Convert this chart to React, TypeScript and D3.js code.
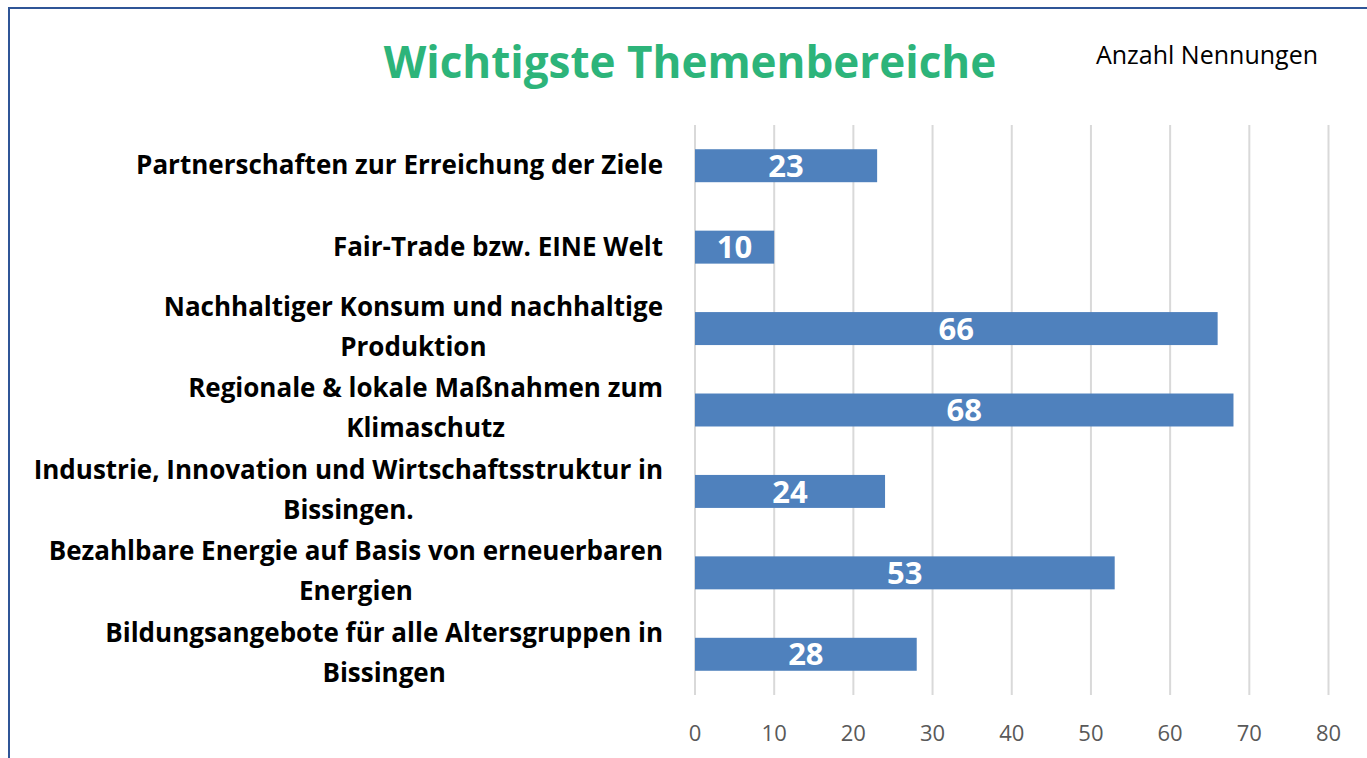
import React, { useEffect, useRef } from "react";
import * as d3 from "d3";

const categories: string[][] = [
  ["Partnerschaften zur Erreichung der Ziele"],
  ["Fair-Trade bzw. EINE Welt"],
  ["Nachhaltiger Konsum und nachhaltige", "Produktion"],
  ["Regionale & lokale Maßnahmen zum", "Klimaschutz"],
  ["Industrie, Innovation und Wirtschaftsstruktur in", "Bissingen."],
  ["Bezahlbare Energie auf Basis von erneuerbaren", "Energien"],
  ["Bildungsangebote für alle Altersgruppen in", "Bissingen"],
];
const values: number[] = [23, 10, 66, 68, 24, 53, 28];
const xTicks: number[] = [0, 10, 20, 30, 40, 50, 60, 70, 80];
const title = "Wichtigste Themenbereiche";
const axisTitle = "Anzahl Nennungen";

const W = 1367;
const H = 758;
const FONT = "'Open Sans', 'DejaVu Sans', sans-serif";

export default function App() {
  const ref = useRef<SVGSVGElement | null>(null);

  useEffect(() => {
    const svg = d3.select(ref.current);
    svg.selectAll("*").remove();

    const x = d3.scaleLinear().domain([0, 80]).range([695, 1328.5]);
    const y = d3
      .scaleBand<number>()
      .domain(values.map((_, i) => i))
      .range([125, 695])
      .paddingInner(0.595)
      .paddingOuter(0.2975);

    svg.append("rect").attr("width", W).attr("height", H).attr("fill", "#fff");
    svg
      .append("rect")
      .attr("x", 9)
      .attr("y", 8)
      .attr("width", W + 20)
      .attr("height", H + 20)
      .attr("fill", "none")
      .attr("stroke", "#2F5597")
      .attr("stroke-width", 2);

    svg
      .append("text")
      .attr("x", 690)
      .attr("y", 78)
      .attr("text-anchor", "middle")
      .attr("font-family", FONT)
      .attr("font-weight", 700)
      .attr("font-size", 44)
      .attr("fill", "#2DB47A")
      .text(title);

    svg
      .append("text")
      .attr("x", 1207)
      .attr("y", 64)
      .attr("text-anchor", "middle")
      .attr("font-family", FONT)
      .attr("font-size", 25)
      .attr("fill", "#000")
      .text(axisTitle);

    // gridlines
    svg
      .append("g")
      .selectAll("line")
      .data(xTicks)
      .join("line")
      .attr("x1", (d) => x(d))
      .attr("x2", (d) => x(d))
      .attr("y1", 125)
      .attr("y2", 695)
      .attr("stroke", "#D9D9D9")
      .attr("stroke-width", 2);

    // tick labels
    svg
      .append("g")
      .selectAll("text")
      .data(xTicks)
      .join("text")
      .attr("x", (d) => x(d))
      .attr("y", 741)
      .attr("text-anchor", "middle")
      .attr("font-family", FONT)
      .attr("font-size", 22)
      .attr("fill", "#595959")
      .text((d) => String(d));

    // bars
    const bh = y.bandwidth();
    svg
      .append("g")
      .selectAll("rect")
      .data(values)
      .join("rect")
      .attr("x", x(0))
      .attr("y", (_, i) => y(i)!)
      .attr("width", (d) => x(d) - x(0))
      .attr("height", bh)
      .attr("fill", "#4F81BD");

    svg
      .append("g")
      .selectAll("text")
      .data(values)
      .join("text")
      .attr("x", (d) => (x(d) + x(0)) / 2)
      .attr("y", (_, i) => y(i)! + bh / 2)
      .attr("dy", "0.36em")
      .attr("text-anchor", "middle")
      .attr("font-family", FONT)
      .attr("font-weight", 700)
      .attr("font-size", 31)
      .attr("fill", "#fff")
      .text((d) => String(d));

    // category labels
    const right = 663;
    const lineGap = 40;
    categories.forEach((lines, i) => {
      const cy = y(i)! + bh / 2;
      const g = svg.append("g");
      const texts = lines.map((ln, k) =>
        g
          .append("text")
          .attr("font-family", FONT)
          .attr("font-weight", 700)
          .attr("font-size", 26)
          .attr("fill", "#000")
          .attr("text-anchor", "middle")
          .attr("dy", "0.36em")
          .attr("y", cy + (k - (lines.length - 1) / 2) * lineGap - (lines.length > 1 ? 2 : 1))
          .text(ln)
      );
      const widths = texts.map((t) => (t.node() as SVGTextElement).getComputedTextLength());
      const maxW = Math.max(...widths);
      texts.forEach((t) => t.attr("x", right - maxW / 2));
    });
  }, []);

  return (
    <svg
      ref={ref}
      width={W}
      height={H}
      style={{ position: "absolute", left: 0, top: 0, display: "block" }}
    />
  );
}
